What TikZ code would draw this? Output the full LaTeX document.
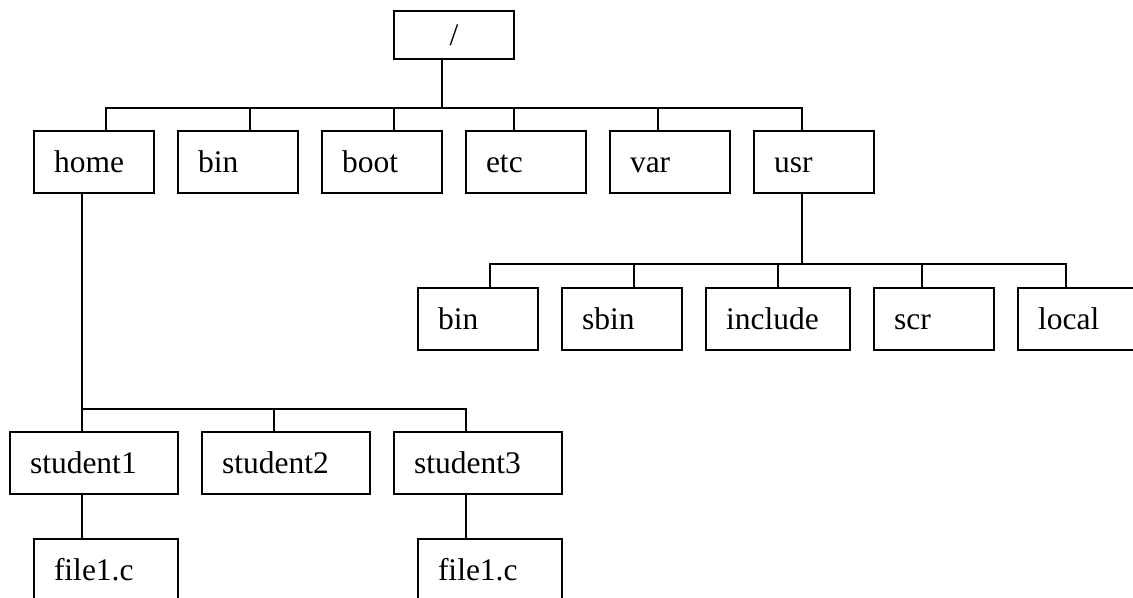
\documentclass[tikz,border=0pt]{standalone}
\usepackage{fontspec}
\setmainfont{Liberation Serif}
\usepackage{tikz}

\begin{document}
\begin{tikzpicture}[x=0.5pt,y=-0.5pt,line width=1pt,
  box/.style={draw, line width=1pt, minimum height=31pt, inner xsep=10pt, inner ysep=0pt,
    text width=#1, text height=10.8pt, text depth=0pt, align=left,
    font=\fontsize{15.75}{18}\selectfont},
  box/.default=40pt]
\useasboundingbox (0,0) rectangle (1133,598);
% root
\node[box, minimum height=24pt, align=center] (root) at (454,35) {/};
% first level
\node[box] (home) at (94,162) {home};
\node[box] (bin) at (238,162) {bin};
\node[box] (boot) at (382,162) {boot};
\node[box] (etc) at (526,162) {etc};
\node[box] (var) at (670,162) {var};
\node[box] (usr) at (814,162) {usr};
% under usr
\node[box] (ubin) at (478,319) {bin};
\node[box] (sbin) at (622,319) {sbin};
\node[box=52pt] (include) at (778,319) {include};
\node[box] (scr) at (934,319) {scr};
\node[box] (local) at (1078,319) {local};
% under home
\node[box=64pt] (stua) at (94,463) {student1};
\node[box=64pt] (stub) at (286,463) {student2};
\node[box=64pt] (stuc) at (478,463) {student3};
\node[box=52pt] (filea) at (106,570) {file1.c};
\node[box=52pt] (fileb) at (490,570) {file1.c};

\draw ([xshift=-6pt]root.south) -- ++(0,48) coordinate (j1);
\foreach \n/\s in {home/6pt, bin/6pt, boot/6pt, etc/-6pt, var/-6pt, usr/-6pt}
  \draw (j1) -| ([xshift=\s]\n.north);

\draw ([xshift=-6pt]usr.south) -- ++(0,70) coordinate (j2);
\foreach \n/\s in {ubin/6pt, sbin/6pt, include/0pt, scr/-6pt, local/-6pt}
  \draw (j2) -| ([xshift=\s]\n.north);

\draw ([xshift=-6pt]home.south) -- ++(0,215) coordinate (j3);
\foreach \n in {stua, stub, stuc}
  \draw (j3) -| ([xshift=-6pt]\n.north);

\draw ([xshift=-6pt]stua.south) -- ([xshift=-12pt]filea.north);
\draw ([xshift=-6pt]stuc.south) -- ([xshift=-12pt]fileb.north);
\end{tikzpicture}
\end{document}
